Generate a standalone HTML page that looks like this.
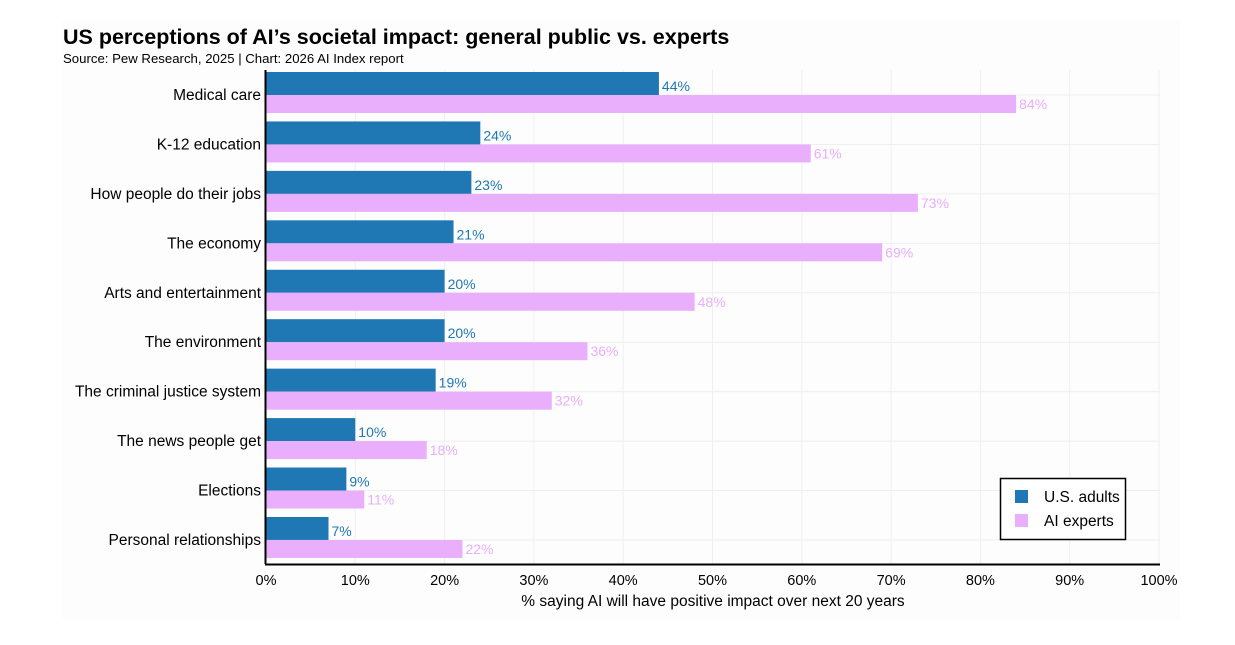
<!DOCTYPE html>
<html><head><meta charset="utf-8"><style>
body{margin:0;background:#fff;font-family:"Liberation Sans",sans-serif;}
</style></head><body>
<svg width="1235" height="640" xmlns="http://www.w3.org/2000/svg" font-family="Liberation Sans, sans-serif">
<rect x="62" y="20" width="1118" height="600" fill="#fdfdfd"/>
<text x="63" y="44" font-size="21.5" font-weight="bold" fill="#000">US perceptions of AI’s societal impact: general public vs. experts</text>
<text x="63" y="63" font-size="13.2" fill="#000">Source: Pew Research, 2025 | Chart: 2026 AI Index report</text>
<g id="grid"></g>
<g id="bars"></g>
<line x1="265.5" y1="70" x2="265.5" y2="564" stroke="#000" stroke-width="2"/>
<line x1="265" y1="564.5" x2="1160" y2="564.5" stroke="#000" stroke-width="2"/>
<g id="ticks"></g>
<text x="713" y="606" font-size="15.5" text-anchor="middle">% saying AI will have positive impact over next 20 years</text>
<g>
<rect x="1000.5" y="478.5" width="125" height="61" fill="#fff" stroke="#000" stroke-width="1.5"/>
<rect x="1015" y="490" width="13" height="13" fill="#1f77b4"/>
<text x="1044" y="502" font-size="15.5">U.S. adults</text>
<rect x="1015" y="514" width="13" height="13" fill="#e9aefc"/>
<text x="1044" y="526" font-size="15.5">AI experts</text>
</g>
</svg>
<script>
const categories=["Medical care","K-12 education","How people do their jobs","The economy","Arts and entertainment","The environment","The criminal justice system","The news people get","Elections","Personal relationships"];
const usAdults=[44,24,23,21,20,20,19,10,9,7];
const aiExperts=[84,61,73,69,48,36,32,18,11,22];
const xTicks=[0,10,20,30,40,50,60,70,80,90,100];
const NS="http://www.w3.org/2000/svg";
const x=v=>266+v*8.93;
const yc=i=>95+i*49.44;
function mk(tag,attrs,parent,txt){const e=document.createElementNS(NS,tag);for(const k in attrs)e.setAttribute(k,attrs[k]);if(txt!==undefined)e.textContent=txt;document.getElementById(parent).appendChild(e);return e;}
xTicks.forEach(t=>{
  const g=mk('line',{x1:x(t),x2:x(t),y1:70,y2:564,stroke:'#efefef','stroke-width':1},'grid');
  
  
  const l=mk('text',{x:x(t),y:585,'font-size':14.5,'text-anchor':'middle'},'ticks',t+'%');
  
  
});
categories.forEach((c,i)=>{
  const h=mk('line',{x1:266,x2:1160,y1:yc(i),y2:yc(i),stroke:'#efefef','stroke-width':1},'grid');
  
  
  const b=mk('rect',{x:266,y:yc(i)-23,width:x(usAdults[i])-266,height:23,fill:'#1f77b4'},'bars');
  
  
  const p=mk('rect',{x:266,y:yc(i),width:x(aiExperts[i])-266,height:18,fill:'#e9aefc'},'bars');
  
  
  const bl=mk('text',{x:x(usAdults[i])+3,y:yc(i)-4,'font-size':14,fill:'#1f77b4'},'bars',usAdults[i]+'%');
  
  
  const pl=mk('text',{x:x(aiExperts[i])+3,y:yc(i)+14,'font-size':14,fill:'#e9aefc'},'bars',aiExperts[i]+'%');
  
  
  const cl=mk('text',{x:261,y:yc(i)+5,'font-size':15.5,'text-anchor':'end'},'ticks',c);
  
  
});
</script>
</body></html>
